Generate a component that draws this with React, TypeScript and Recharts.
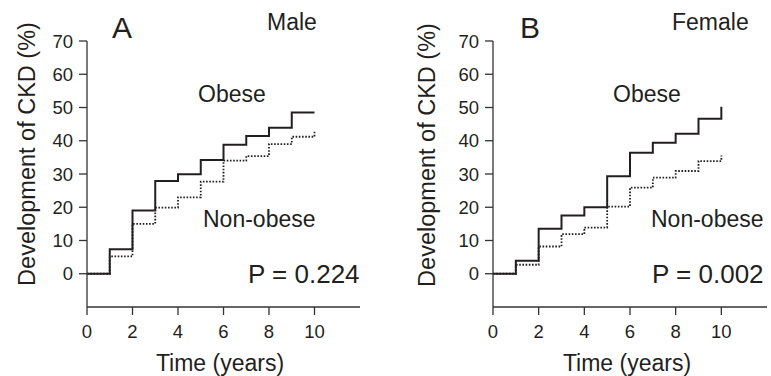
import React from "react";
import { LineChart, Line, XAxis, YAxis } from "recharts";

// Time points (years); the duplicated 10 draws the final vertical step
const years = [0, 1, 2, 3, 4, 5, 6, 7, 8, 9, 10, 10];
const maleObese = [0, 7.4, 19, 27.9, 29.9, 34.2, 38.8, 41.4, 43.9, 48.5, 48.5, 48.5];
const maleNonObese = [0, 5.2, 15, 19.9, 23, 27.7, 34, 35.4, 39, 41.2, 41.2, 43];
const femaleObese = [0, 3.9, 13.5, 17.5, 20, 29.3, 36.4, 39.4, 42.1, 46.6, 46.6, 50.2];
const femaleNonObese = [0, 2.7, 8.2, 11.9, 13.9, 20.2, 25.9, 28.9, 30.9, 33.9, 33.9, 35.6];

const xTicks = [0, 2, 4, 6, 8, 10];
const yTicks = [0, 10, 20, 30, 40, 50, 60, 70];

const panelA = { letter: "A", sex: "Male", p: "P = 0.224" };
const panelB = { letter: "B", sex: "Female", p: "P = 0.002" };

const FONT = '"Liberation Sans", Arial, Helvetica, sans-serif';
const INK = "#231f20";

function build(obese: number[], non: number[]) {
  return years.map((t, i) => ({ t, obese: obese[i], non: non[i] }));
}

const XTick = (props: any) => (
  <text
    x={props.x}
    y={props.y}
    dy="0.71em"
    textAnchor="middle"
    fontSize={18.5}
    fill={INK}
    fontFamily={FONT}
  >
    {props.payload.value}
  </text>
);

const YTick = (props: any) => (
  <text
    x={props.x}
    y={props.y}
    dy="0.36em"
    textAnchor="end"
    fontSize={18.5}
    fill={INK}
    fontFamily={FONT}
  >
    {props.payload.value}
  </text>
);

type PanelProps = {
  data: { t: number; obese: number; non: number }[];
  info: { letter: string; sex: string; p: string };
  width: number;
  marginLeft: number;
  marginRight: number;
  pos: {
    letterX: number;
    sexX: number;
    obeseX: number;
    nonX: number;
    pX: number;
    timeX: number;
    yLabX: number;
    yLabY: number;
  };
};

function Panel({ data, info, width, marginLeft, marginRight, pos }: PanelProps) {
  const axisLine = { stroke: "#333", strokeWidth: 1.3 };
  return (
    <LineChart
      width={width}
      height={376}
      data={data}
      margin={{ top: 41, right: marginRight, bottom: 29, left: marginLeft }}
      style={{ fontFamily: FONT }}
    >
      <XAxis
        dataKey="t"
        type="number"
        domain={[0, 12]}
        ticks={xTicks}
        height={40}
        tickSize={8}
        tickMargin={10}
        tick={<XTick />}
        axisLine={axisLine}
        tickLine={axisLine}
        interval={0}
      />
      <YAxis
        type="number"
        domain={[-10, 70]}
        ticks={yTicks}
        width={60}
        tickSize={8}
        tickMargin={6}
        tick={<YTick />}
        axisLine={axisLine}
        tickLine={axisLine}
        interval={0}
      />
      <Line
        type="stepAfter"
        dataKey="non"
        stroke={INK}
        strokeWidth={1.8}
        strokeDasharray="1.6 1.6"
        dot={false}
        isAnimationActive={false}
      />
      <Line
        type="stepAfter"
        dataKey="obese"
        stroke={INK}
        strokeWidth={2}
        dot={false}
        isAnimationActive={false}
      />
      <text x={pos.letterX} y={38} fontSize={30} fill={INK} fontFamily={FONT}>
        {info.letter}
      </text>
      <text x={pos.sexX} y={30} fontSize={23} fill={INK} fontFamily={FONT}>
        {info.sex}
      </text>
      <text x={pos.obeseX} y={102} fontSize={23} fill={INK} fontFamily={FONT}>
        Obese
      </text>
      <text x={pos.nonX} y={227} fontSize={23} fill={INK} fontFamily={FONT}>
        Non-obese
      </text>
      <text x={pos.pX} y={283} fontSize={26} fill={INK} fontFamily={FONT}>
        {info.p}
      </text>
      <text x={pos.timeX} y={371} fontSize={23} fill={INK} fontFamily={FONT} textAnchor="middle">
        Time (years)
      </text>
      <text
        x={pos.yLabX}
        y={pos.yLabY}
        fontSize={23.5}
        fill={INK}
        fontFamily={FONT}
        textAnchor="middle"
        transform={`rotate(-90 ${pos.yLabX} ${pos.yLabY})`}
      >
        Development of CKD (%)
      </text>
    </LineChart>
  );
}

export default function App() {
  return (
    <div style={{ position: "absolute", left: 0, top: 0, width: 771, height: 376, background: "#fff" }}>
      <div style={{ position: "absolute", left: 0, top: 0 }}>
        <Panel
          data={build(maleObese, maleNonObese)}
          info={panelA}
          width={385}
          marginLeft={27}
          marginRight={25}
          pos={{ letterX: 112, sexX: 267, obeseX: 198, nonX: 203, pX: 248, timeX: 220, yLabX: 35, yLabY: 154 }}
        />
      </div>
      <div style={{ position: "absolute", left: 385, top: 0 }}>
        <Panel
          data={build(femaleObese, femaleNonObese)}
          info={panelB}
          width={386}
          marginLeft={48}
          marginRight={4}
          pos={{ letterX: 135, sexX: 287, obeseX: 228, nonX: 266, pX: 267, timeX: 242, yLabX: 50, yLabY: 155 }}
        />
      </div>
    </div>
  );
}
